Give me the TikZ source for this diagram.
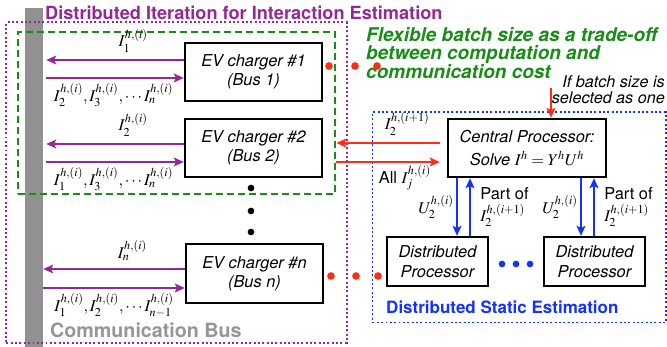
\documentclass[tikz,border=0pt]{standalone}
\usepackage{mathptmx}
\usepackage{fontspec}
\setmainfont{TeX Gyre Heros}
\usetikzlibrary{arrows.meta,calc,positioning}
\definecolor{iterpurple}{RGB}{150,40,150}
\definecolor{flexgreen}{RGB}{25,140,25}
\definecolor{flexred}{RGB}{255,45,20}
\definecolor{staticblue}{RGB}{20,50,255}
\definecolor{busgray}{RGB}{145,145,145}
\definecolor{busgraytext}{RGB}{150,150,150}
\tikzset{
  evbox/.style = {
    draw, line width=1.7pt, inner sep=0pt, align=center,
    minimum width=4.12cm, minimum height=1.75cm,
    font=\fontsize{14}{16.5}\selectfont\itshape
  },
  procbox/.style = {
    evbox, minimum width=3.04cm, minimum height=1.48cm
  },
  lbl/.style = {
    inner sep=1pt, font=\fontsize{14}{19.5}\selectfont
  },
  busarc/.style = {
    -{Stealth[length=8.5pt,width=7.5pt,inset=1.8pt]},
    line width=1.6pt, draw=iterpurple
  },
  redarc/.style = {
    -{Stealth[length=8.5pt,width=7.5pt,inset=1.8pt]},
    line width=1.6pt, draw=flexred
  },
  bluearc/.style = {
    -{Stealth[length=8.5pt,width=7.5pt,inset=1.8pt]},
    line width=1.6pt, draw=staticblue
  }
}

\begin{document}
\begin{tikzpicture}[x=0.03cm, y=-0.03cm]
    \useasboundingbox (0,0) rectangle (667,347);

    \node[fill=busgray, inner sep=0pt, minimum width=0.54cm, minimum height=10.17cm] (bus) at (34,177.5) {};
    \node[draw=iterpurple, dotted, line width=1.7pt, minimum width=10.2cm, minimum height=9.6cm] (iterbox) at (176.5,182.5) {};
    \node[draw=flexgreen, dash pattern=on 6pt off 3.4pt, line width=2pt, minimum width=9.52cm, minimum height=4.87cm] (flexbox) at (176.5,113) {};
    \node[draw=staticblue, dotted, line width=1.7pt, minimum width=8.79cm, minimum height=6.3cm] (staticbox) at (519,217.5) {};

    \node[anchor=west, inner sep=0pt, text=iterpurple, font=\fontsize{15.5}{18}\selectfont\bfseries] (itertitle) at (45,13) {Distributed Iteration for Interaction Estimation};
    \node[anchor=west, inner sep=0pt, text=busgraytext, font=\fontsize{16.8}{19}\selectfont\bfseries] (bustitle) at (50,330) {Communication Bus};
    \node[anchor=north west, inner sep=0pt, align=left, text=flexgreen, font=\fontsize{16.2}{15.8}\selectfont\bfseries\itshape] (flextext) at (366,27) {Flexible batch size as a trade-off\\between computation and\\communication cost};
    \node[anchor=north east, inner sep=0pt, align=right, font=\fontsize{13.8}{13.7}\selectfont\itshape] (batchnote) at (665,75) {If batch size is\\selected as one};
    \node[anchor=west, inner sep=0pt, text=staticblue, font=\fontsize{14.5}{17}\selectfont\bfseries] (statictitle) at (386,307) {Distributed Static Estimation};

    \node[evbox] (ev1) at (253.5,72) {EV charger \#1\\(Bus 1)};
    \node[evbox] (ev2) at (253.5,148) {EV charger \#2\\(Bus 2)};
    \node[evbox] (evn) at (254.5,273.5) {EV charger \#n\\(Bus n)};
    \node[evbox, minimum width=4.75cm, font=\fontsize{14}{19.5}\selectfont\itshape] (central) at (527,148) {Central Processor:\\Solve $I^h = Y^h U^h$};
    \node[procbox] (dp1) at (437.5,261.5) {Distributed\\Processor};
    \node[procbox] (dp2) at (594.5,261.5) {Distributed\\Processor};

    \draw[busarc, shorten >=0.09cm] ([yshift=0.36cm]ev1.west) -- ([yshift=0.36cm]ev1.west -| bus.east) node[lbl, pos=0.36, above=5pt] {$I_1^{h,(i)}$};
    \draw[busarc, shorten <=0.09cm] ([yshift=-0.18cm]ev1.west -| bus.east) -- ([yshift=-0.18cm]ev1.west) node[lbl, midway, below=3pt] {$I_2^{h,(i)}, I_3^{h,(i)}, \cdots I_n^{h,(i)}$};
    \draw[busarc, shorten >=0.09cm] ([yshift=0.12cm]ev2.west) -- ([yshift=0.12cm]ev2.west -| bus.east) node[lbl, pos=0.36, above=5pt] {$I_2^{h,(i)}$};
    \draw[busarc, shorten <=0.09cm] ([yshift=-0.42cm]ev2.west -| bus.east) -- ([yshift=-0.42cm]ev2.west) node[lbl, midway, below=3pt] {$I_1^{h,(i)}, I_3^{h,(i)}, \cdots I_n^{h,(i)}$};
    \draw[busarc] ([yshift=0.135cm]evn.west) -- ([yshift=0.135cm]evn.west -| bus.east) node[lbl, pos=0.37, above=5pt] {$I_n^{h,(i)}$};
    \draw[busarc] ([yshift=-0.435cm]evn.west -| bus.east) -- ([yshift=-0.435cm]evn.west) node[lbl, midway, below=3pt] {$I_1^{h,(i)}, I_2^{h,(i)}, \cdots I_{n-1}^{h,(i)}$};

    \draw[redarc, shorten <=0.21cm] ([yshift=0.15cm]central.west) -- ([yshift=0.15cm]central.west -| flexbox.east) node[lbl, pos=0.36, above=5pt] {$I_2^{h,(i+1)}$};
    \draw[redarc, shorten >=0.21cm] ([yshift=-0.42cm]central.west -| flexbox.east) -- ([yshift=-0.42cm]central.west) node[lbl, pos=0.62, below=1pt] {All $I_j^{h,(i)}$};
    \coordinate (batchtail) at (551,88);
    \draw[redarc] (batchtail) -- (batchtail |- central.north);

    \draw[bluearc] ([xshift=-2.1cm]central.south) -- ([xshift=-2.1cm]central.south |- dp1.north) node[lbl, midway, left=1pt] {$U_2^{h,(i)}$};
    \draw[bluearc] ([xshift=-1.71cm]central.south |- dp1.north) -- ([xshift=-1.71cm]central.south) node[lbl, midway, right=7pt, align=left] {Part of\\$I_2^{h,(i+1)}$};
    \draw[bluearc] ([xshift=1.62cm]central.south) -- ([xshift=1.62cm]central.south |- dp2.north) node[lbl, midway, left=1pt] {$U_2^{h,(i)}$};
    \draw[bluearc] ([xshift=2.01cm]central.south |- dp2.north) -- ([xshift=2.01cm]central.south) node[lbl, midway, right=7pt, align=left] {Part of\\$I_2^{h,(i+1)}$};

    \fill (251,188) circle (0.1cm);
    \fill (251,211) circle (0.1cm);
    \fill (251,232) circle (0.1cm);
    \fill[flexred] (329,66) circle (0.115cm);
    \fill[flexred] (355,66) circle (0.115cm);
    \fill[flexred] (377,66) circle (0.115cm);
    \fill[flexred] (331,276) circle (0.115cm);
    \fill[flexred] (356,276) circle (0.115cm);
    \fill[flexred] (378,276) circle (0.115cm);
    \fill[staticblue] (502,264) circle (0.1cm);
    \fill[staticblue] (516,264) circle (0.1cm);
    \fill[staticblue] (530,264) circle (0.1cm);
\end{tikzpicture}
\end{document}
